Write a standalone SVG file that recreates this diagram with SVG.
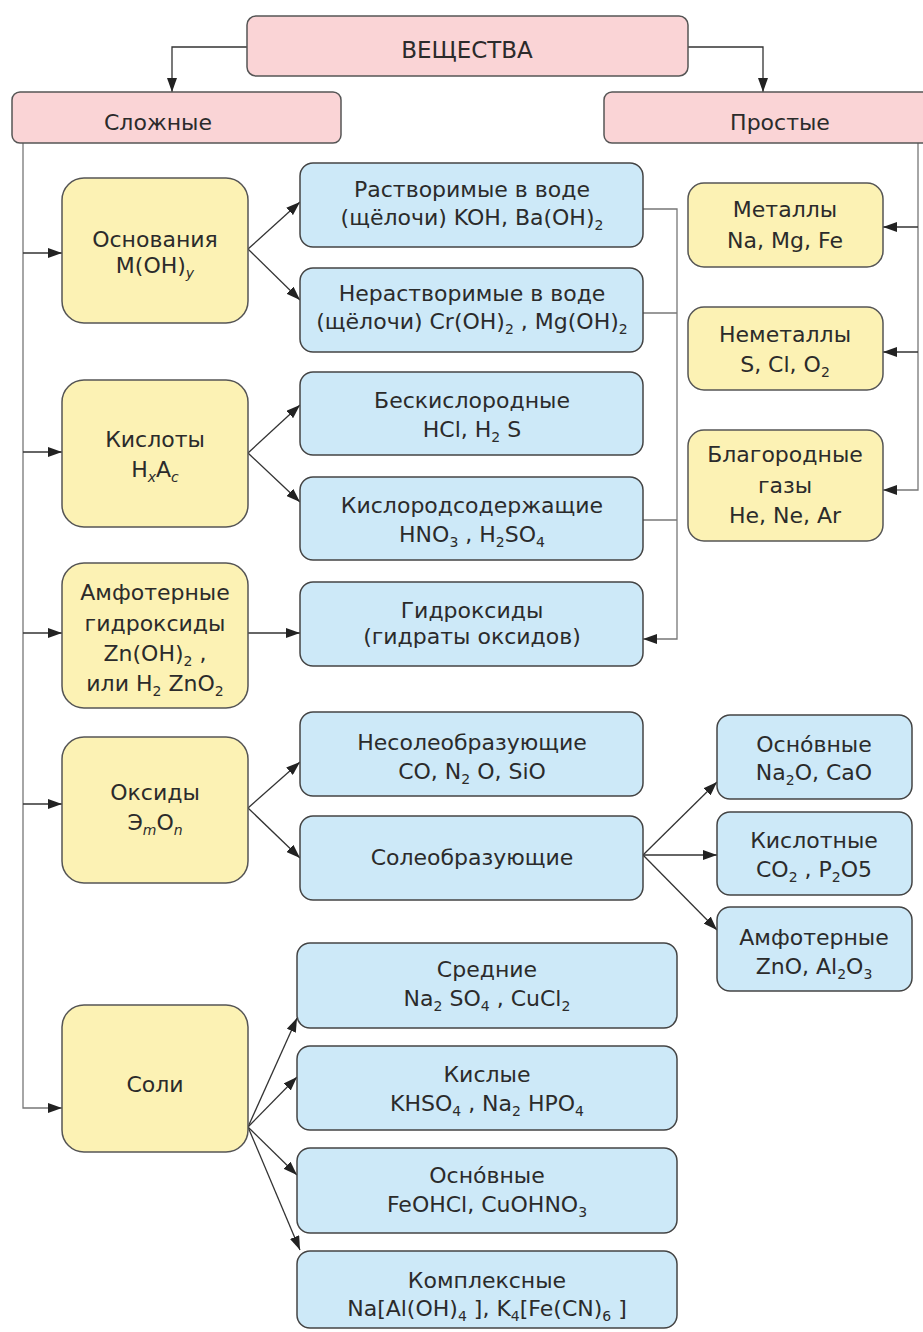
<svg xmlns="http://www.w3.org/2000/svg" width="923" height="1332" viewBox="0 0 923 1332">
<defs>
<marker id="ah" markerUnits="userSpaceOnUse" markerWidth="15" markerHeight="10" refX="14" refY="5" orient="auto">
<path d="M0,0 L14,5 L0,10 Z" fill="#222"/>
</marker>
</defs>
<style>
.pink{fill:#fad4d6;stroke:#555;stroke-width:1.5}
.yel{fill:#fcf2b4;stroke:#555;stroke-width:1.5}
.blue{fill:#cde9f8;stroke:#444;stroke-width:1.5}
text{font-family:"DejaVu Sans",sans-serif;font-size:22px;fill:#2b2b2b;text-anchor:middle}
.big{font-size:23px}
.s{font-size:14px;baseline-shift:-5px}
.i{font-style:italic}
.c path{fill:none;stroke:#333;stroke-width:1.3}
.c .g{stroke:#777}
</style>
<g class="c" id="connectors">
<path d="M247,47 H172 V92" marker-end="url(#ah)"/>
<path d="M688,47 H763 V92" marker-end="url(#ah)"/>
<path class="g" d="M23,143 V1108 H62" marker-end="url(#ah)"/>
<path d="M23,253 H62" marker-end="url(#ah)"/>
<path d="M23,452 H62" marker-end="url(#ah)"/>
<path d="M23,633 H62" marker-end="url(#ah)"/>
<path d="M23,804 H62" marker-end="url(#ah)"/>
<path class="g" d="M918,143 V490 H883" marker-end="url(#ah)"/>
<path d="M918,227 H883" marker-end="url(#ah)"/>
<path d="M918,352 H883" marker-end="url(#ah)"/>
<path d="M248,249 L300,202" marker-end="url(#ah)"/>
<path d="M248,249 L300,300" marker-end="url(#ah)"/>
<path d="M248,453 L300,405" marker-end="url(#ah)"/>
<path d="M248,453 L300,502" marker-end="url(#ah)"/>
<path d="M248,633 H300" marker-end="url(#ah)"/>
<path class="g" d="M643,209 H677 V639 H643" marker-end="url(#ah)"/>
<path class="g" d="M643,313 H677"/>
<path class="g" d="M643,520 H677"/>
<path d="M248,808 L300,762" marker-end="url(#ah)"/>
<path d="M248,808 L300,858" marker-end="url(#ah)"/>
<path d="M643,855 L717,782" marker-end="url(#ah)"/>
<path d="M643,855 H717" marker-end="url(#ah)"/>
<path d="M643,855 L717,930" marker-end="url(#ah)"/>
<path d="M248,1127 L297,1018" marker-end="url(#ah)"/>
<path d="M248,1127 L297,1077" marker-end="url(#ah)"/>
<path d="M248,1127 L297,1175" marker-end="url(#ah)"/>
<path d="M248,1127 L300,1250" marker-end="url(#ah)"/>
</g>
<g id="n-veshchestva"><rect class="pink" x="247" y="16" width="441" height="60" rx="9"/><text class="big" x="467" y="58">ВЕЩЕСТВА</text></g>
<g id="n-slozhnye"><rect class="pink" x="12" y="92" width="329" height="51" rx="8"/><text x="158" y="130">Сложные</text></g>
<g id="n-prostye"><rect class="pink" x="604" y="92" width="330" height="51" rx="8"/><text x="780" y="130">Простые</text></g>
<g id="n-osnovaniya"><rect class="yel" x="62" y="178" width="186" height="145" rx="22"/><text x="155" y="247">Основания</text><text x="155" y="273">M(OH)<tspan class="s i">y</tspan></text></g>
<g id="n-kisloty"><rect class="yel" x="62" y="380" width="186" height="147" rx="22"/><text x="155" y="447">Кислоты</text><text x="155" y="477">H<tspan class="s i">x</tspan><tspan>A</tspan><tspan class="s i">c</tspan></text></g>
<g id="n-amfoternye-gidroksidy"><rect class="yel" x="62" y="563" width="186" height="145" rx="22"/><text x="155" y="600">Амфотерные</text><text x="155" y="631">гидроксиды</text><text x="155" y="661">Zn(OH)<tspan class="s">2</tspan><tspan> ,</tspan></text><text x="155" y="691">или H<tspan class="s">2</tspan><tspan> ZnO</tspan><tspan class="s">2</tspan></text></g>
<g id="n-oksidy"><rect class="yel" x="62" y="737" width="186" height="146" rx="22"/><text x="155" y="800">Оксиды</text><text x="155" y="830">Э<tspan class="s i">m</tspan><tspan>O</tspan><tspan class="s i">n</tspan></text></g>
<g id="n-soli"><rect class="yel" x="62" y="1005" width="186" height="147" rx="22"/><text x="155" y="1092">Соли</text></g>
<g id="n-rastvorimye"><rect class="blue" x="300" y="163" width="343" height="84" rx="13"/><text x="472" y="197">Растворимые в воде</text><text x="472" y="225">(щёлочи) KOH, Ba(OH)<tspan class="s">2</tspan></text></g>
<g id="n-nerastvorimye"><rect class="blue" x="300" y="268" width="343" height="84" rx="13"/><text x="472" y="301">Нерастворимые в воде</text><text x="472" y="329">(щёлочи) Cr(OH)<tspan class="s">2</tspan><tspan> , Mg(OH)</tspan><tspan class="s">2</tspan></text></g>
<g id="n-beskislorodnye"><rect class="blue" x="300" y="372" width="343" height="83" rx="13"/><text x="472" y="408">Бескислородные</text><text x="472" y="437">HCl, H<tspan class="s">2</tspan><tspan> S</tspan></text></g>
<g id="n-kislorodsoderzhashchie"><rect class="blue" x="300" y="477" width="343" height="83" rx="13"/><text x="472" y="513">Кислородсодержащие</text><text x="472" y="542">HNO<tspan class="s">3</tspan><tspan> ,  H</tspan><tspan class="s">2</tspan><tspan>SO</tspan><tspan class="s">4</tspan></text></g>
<g id="n-gidroksidy"><rect class="blue" x="300" y="582" width="343" height="84" rx="13"/><text x="472" y="618">Гидроксиды</text><text x="472" y="644">(гидраты оксидов)</text></g>
<g id="n-nesoleobrazuyushchie"><rect class="blue" x="300" y="712" width="343" height="84" rx="13"/><text x="472" y="750">Несолеобразующие</text><text x="472" y="779">CO, N<tspan class="s">2</tspan><tspan> O, SiO</tspan></text></g>
<g id="n-soleobrazuyushchie"><rect class="blue" x="300" y="816" width="343" height="84" rx="13"/><text x="472" y="865">Солеобразующие</text></g>
<g id="n-osnovnye-oksidy"><rect class="blue" x="717" y="715" width="195" height="84" rx="13"/><text x="814" y="752">Осно́вные</text><text x="814" y="780">Na<tspan class="s">2</tspan><tspan>O, CaO</tspan></text></g>
<g id="n-kislotnye-oksidy"><rect class="blue" x="717" y="812" width="195" height="83" rx="13"/><text x="814" y="848">Кислотные</text><text x="814" y="877">CO<tspan class="s">2</tspan><tspan> , P</tspan><tspan class="s">2</tspan><tspan>O5</tspan></text></g>
<g id="n-amfoternye-oksidy"><rect class="blue" x="717" y="907" width="195" height="84" rx="13"/><text x="814" y="945">Амфотерные</text><text x="814" y="974">ZnO, Al<tspan class="s">2</tspan><tspan>O</tspan><tspan class="s">3</tspan></text></g>
<g id="n-srednie"><rect class="blue" x="297" y="943" width="380" height="85" rx="13"/><text x="487" y="977">Средние</text><text x="487" y="1006">Na<tspan class="s">2</tspan><tspan> SO</tspan><tspan class="s">4</tspan><tspan> , CuCl</tspan><tspan class="s">2</tspan></text></g>
<g id="n-kislye"><rect class="blue" x="297" y="1046" width="380" height="84" rx="13"/><text x="487" y="1082">Кислые</text><text x="487" y="1111">KHSO<tspan class="s">4</tspan><tspan> , Na</tspan><tspan class="s">2</tspan><tspan> HPO</tspan><tspan class="s">4</tspan></text></g>
<g id="n-osnovnye-soli"><rect class="blue" x="297" y="1148" width="380" height="85" rx="13"/><text x="487" y="1183">Осно́вные</text><text x="487" y="1212">FeOHCl, CuOHNO<tspan class="s">3</tspan></text></g>
<g id="n-kompleksnye"><rect class="blue" x="297" y="1251" width="380" height="77" rx="13"/><text x="487" y="1288">Комплексные</text><text x="487" y="1316">Na[Al(OH)<tspan class="s">4</tspan><tspan> ], K</tspan><tspan class="s">4</tspan><tspan>[Fe(CN)</tspan><tspan class="s">6</tspan><tspan> ]</tspan></text></g>
<g id="n-metally"><rect class="yel" x="688" y="183" width="195" height="84" rx="16"/><text x="785" y="217">Металлы</text><text x="785" y="248">Na, Mg, Fe</text></g>
<g id="n-nemetally"><rect class="yel" x="688" y="307" width="195" height="83" rx="16"/><text x="785" y="342">Неметаллы</text><text x="785" y="372">S, Cl, O<tspan class="s">2</tspan></text></g>
<g id="n-blagorodnye"><rect class="yel" x="688" y="430" width="195" height="111" rx="16"/><text x="785" y="462">Благородные</text><text x="785" y="493">газы</text><text x="785" y="523">He, Ne, Ar</text></g>
</svg>
